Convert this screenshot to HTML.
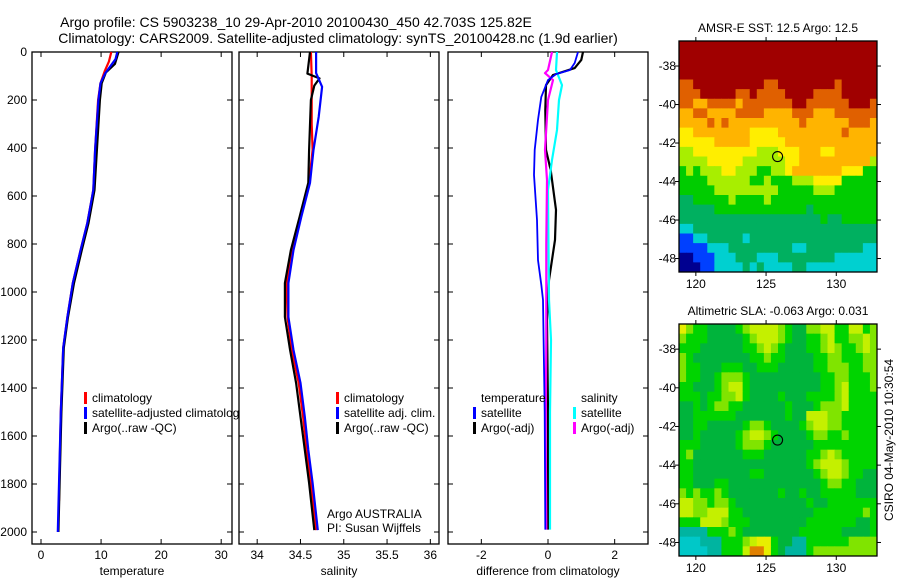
<!DOCTYPE html>
<html><head><meta charset="utf-8"><style>
html,body{margin:0;padding:0;background:#fff;}
svg{display:block;font-family:"Liberation Sans",sans-serif;}
</style></head><body>
<svg id="fig" width="900" height="580" viewBox="0 0 900 580">
<text x="296" y="27" font-size="14" text-anchor="middle">Argo profile: CS 5903238_10 29-Apr-2010 20100430_450 42.703S 125.82E</text>
<text x="338" y="43" font-size="14" text-anchor="middle">Climatology: CARS2009. Satellite-adjusted climatology: synTS_20100428.nc (1.9d earlier)</text>
</svg>
<script>
// ---------- data ----------
const depthTicks=[0,200,400,600,800,1000,1200,1400,1600,1800,2000];
const tempTicks=[0,10,20,30];
const salTicks=[34,34.5,35,35.5,36];
const salTickLabels=["34","34.5","35","35.5","36"];
const diffTicks=[-2,0,2];
// temperature panel
const tClimDepth=[0,40,80,130,200,408,575,617,713,825,963,1104,1233,1500,1870];
const tClimVal=[11.7,11.3,10.6,9.9,9.5,9.0,8.7,8.4,7.7,6.6,5.3,4.4,3.7,3.3,3.0];
const tSatDepth=[0,30,88,130,200,408,575,617,713,825,963,1104,1233,1500,2000];
const tSatVal=[12.7,12.4,10.7,9.9,9.55,9.0,8.7,8.4,7.7,6.6,5.3,4.4,3.7,3.3,2.8];
const tArgoDepth=[0,50,85,130,200,408,575,617,713,825,963,1104,1233,1500,2000];
const tArgoVal=[12.9,12.3,10.8,10.1,9.8,9.3,8.9,8.6,7.9,6.8,5.5,4.5,3.8,3.4,2.9];
// salinity panel
const sClimDepth=[0,100,300,408,545,687,825,963,1104,1242,1379,1520,1658,1796,1992];
const sClimVal=[34.62,34.63,34.63,34.64,34.60,34.50,34.41,34.34,34.35,34.40,34.48,34.53,34.57,34.62,34.68];
const sSatDepth=[0,88,145,270,408,545,687,825,963,1104,1242,1379,1520,1658,1796,1992];
const sSatVal=[34.68,34.68,34.75,34.71,34.65,34.61,34.51,34.42,34.36,34.36,34.42,34.50,34.55,34.59,34.64,34.70];
const sArgoDepth=[0,90,110,140,200,408,545,687,825,963,1104,1242,1379,1520,1658,1796,1992];
const sArgoVal=[34.61,34.58,34.72,34.66,34.62,34.60,34.59,34.49,34.39,34.32,34.32,34.38,34.45,34.50,34.55,34.60,34.66];
// difference panel
const dTSatDepth=[0,46,75,92,117,187,283,408,512,700,867,970,1033,1500,1990];
const dTSatVal=[0.9,0.8,0.66,0.24,0.0,-0.2,-0.3,-0.4,-0.42,-0.33,-0.3,-0.2,-0.15,-0.1,-0.08];
const dTArgoDepth=[0,33,67,96,138,242,408,492,658,783,950,1117,1500,1990];
const dTArgoVal=[1.05,1.0,0.8,0.15,-0.06,-0.08,-0.06,0.08,0.24,0.21,0.03,-0.03,0.0,0.0];
const dSSatDepth=[0,75,138,200,325,450,575,1033,1200,1500,1990];
const dSSatVal=[0.27,0.24,0.42,0.33,0.27,0.12,0.0,0.03,0.09,0.06,0.06];
const dSArgoDepth=[0,75,88,117,200,408,533,800,1200,1600,1990];
const dSArgoVal=[0.12,0.0,-0.09,0.15,0.0,-0.09,-0.03,-0.05,-0.05,-0.07,-0.05];
// maps
const mapLonTicks=[120,125,130];
const mapLatTicks=[-38,-40,-42,-44,-46,-48];
const sstGrid=[
"9999999999999999999999999999","9999999999999999999999999999","9999999999999999999999999999","9999999999999999999999999999",
"8899999999998899999999899999","8889999988988889999888899999","8877888878888888998888889998","7788777788887777888777888888",
"7777878777777777787777778887","6677777777666677777777787777","6666677777666667777777777777","5566666666655566677766777777",
"5555666665555556677777777775","4545556655544556777777766644","4444555555445444555666644444","4444455555555544444555444444",
"3344444544445444444444444444","3333344444444444443444444444","3333333333333333333343344444","2233333333333333333333333333",
"1122333332333333333333333333","1111222333333333223333333322","0011122233322233333333222222","0001122223232222332222222222"];
const slaGrid=[
"8655444456777765446677557756","6555444445677765445567556676","5554444445567654445567655676","6544444444556554444556655566",
"6554445554455544444556665566","6554456665444444444455665556","5544456775444444444455675556","5554556675444454445555675555",
"4454566554444445444566675555","4455555544444445447776655555","4455444445665444456776655555","4454444456776544445665565555",
"5554444456665444444555555555","5644444445554444445567655555","5544444444444444445677765555","5544444444554444444567765544",
"5544455444444444444456655444","6565565444444454454455555444","7766566544444444445445555555","7766777554444444444555555565",
"5557776555444444445555555445","2222555654444444455555544445","1112225556788544225555556666","1111225557998542225666666666"];
const argoLon=125.82, argoLat=-42.703;

// ---------- helpers ----------
const NS="http://www.w3.org/2000/svg";
const svg=document.getElementById('fig');
function mk(tag,attrs,parent){const e=document.createElementNS(NS,tag);for(const k in attrs)e.setAttribute(k,attrs[k]);(parent||svg).appendChild(e);return e;}
const Y0=52, PXD=0.24, PB=544;
const yD=d=>Y0+d*PXD;

function panel(name,left,right,xmin,xmax,xt,xtl,showYLabels,xlabel){
  const g=mk('g',{});
  
  
  const sx=v=>left+(v-xmin)/(xmax-xmin)*(right-left);
  const fr=mk('rect',{x:left,y:Y0,width:right-left,height:PB-Y0,fill:'#fff',stroke:'#000','stroke-width':1.3},g);
  
  
  depthTicks.forEach(d=>{
    mk('line',{x1:left,x2:left+5,y1:yD(d),y2:yD(d),stroke:'#000'},g);
    mk('line',{x1:right-5,x2:right,y1:yD(d),y2:yD(d),stroke:'#000'},g);
    if(showYLabels){const t=mk('text',{x:left-5,y:yD(d)+4,'font-size':12,'text-anchor':'end'},g);t.textContent=d;
      
      }
  });
  xt.forEach((v,i)=>{
    mk('line',{x1:sx(v),x2:sx(v),y1:Y0,y2:Y0+5,stroke:'#000'},g);
    mk('line',{x1:sx(v),x2:sx(v),y1:PB-5,y2:PB,stroke:'#000'},g);
    const t=mk('text',{x:sx(v),y:PB+15,'font-size':12,'text-anchor':'middle'},g);t.textContent=xtl[i];
    
    
  });
  const xl=mk('text',{x:(left+right)/2,y:575,'font-size':12,'text-anchor':'middle'},g);xl.textContent=xlabel;
  
  
  return {g,sx};
}
function series(p,name,depths,vals,color,w){
  const pts=depths.map((d,i)=>p.sx(vals[i]).toFixed(1)+','+yD(d).toFixed(1)).join(' ');
  const l=mk('polyline',{points:pts,fill:'none',stroke:color,'stroke-width':w||2.2,'stroke-linejoin':'round'},p.g);
  
  
}
function legend(p,x,y,color,label,name){
  if(color){const m=mk('rect',{x:x,y:y-10,width:3,height:12,fill:color},p.g);
    
    }
  const t=mk('text',{x:x+8,y:y,'font-size':12},p.g);t.textContent=label;
  
  
}

const p1=panel('temperature-panel',32,232,-1.5,31.8,tempTicks,tempTicks.map(String),true,'temperature');
series(p1,'temp-climatology-line',tClimDepth,tClimVal,'#f00');
series(p1,'temp-argo-line',tArgoDepth,tArgoVal,'#000');
series(p1,'temp-satellite-line',tSatDepth,tSatVal,'#00f');
legend(p1,84,402,'#f00','climatology','legend-climatology');
legend(p1,84,417,'#00f','satellite-adjusted climatology','legend-satellite-adjusted');
legend(p1,84,432,'#000','Argo(..raw -QC)','legend-argo');

const p2=panel('salinity-panel',239,439,33.79,36.1,salTicks,salTickLabels,false,'salinity');
series(p2,'sal-climatology-line',sClimDepth,sClimVal,'#f00');
series(p2,'sal-argo-line',sArgoDepth,sArgoVal,'#000');
series(p2,'sal-satellite-line',sSatDepth,sSatVal,'#00f');
legend(p2,336,402,'#f00','climatology','legend-climatology');
legend(p2,336,417,'#00f','satellite adj. clim.','legend-satellite-adj');
legend(p2,336,432,'#000','Argo(..raw -QC)','legend-argo');
legend(p2,319,518,null,'Argo AUSTRALIA','argo-australia-note');
legend(p2,319,532,null,'PI: Susan Wijffels','pi-note');

const p3=panel('difference-panel',448,648,-3,3,diffTicks,diffTicks.map(String),false,'difference from climatology');
series(p3,'diff-temp-argo-line',dTArgoDepth,dTArgoVal,'#000');
series(p3,'diff-sal-satellite-line',dSSatDepth,dSSatVal,'#0ff');
series(p3,'diff-sal-argo-line',dSArgoDepth,dSArgoVal,'#f0f');
series(p3,'diff-temp-satellite-line',dTSatDepth,dTSatVal,'#00f',1.8);
legend(p3,473,402,null,'temperature','legend-temperature-header');
legend(p3,473,417,'#00f','satellite','legend-temp-satellite');
legend(p3,473,432,'#000','Argo(-adj)','legend-temp-argo');
legend(p3,573,402,null,'salinity','legend-salinity-header');
legend(p3,573,417,'#0ff','satellite','legend-sal-satellite');
legend(p3,573,432,'#f0f','Argo(-adj)','legend-sal-argo');

// ---------- maps ----------
const sstPal=['#000090','#0040ff','#00d0d0','#00b060','#00cc00','#a8ee00','#ffee00','#ffb400','#e06000','#a00000'];
const slaPal=['#0000c0','#00c8c8','#00b4a0','#00b060','#00b43c','#00d400','#80e400','#c4f000','#e8ee00','#e08000'];
function mapPanel(name,top,bottom,grid,pal,title){
  const left=679,right=877,lon0=118.8,lon1=132.9,lat0=-36.7,lat1=-48.7;
  const g=mk('g',{});
  
  
  const sx=v=>left+(v-lon0)/(lon1-lon0)*(right-left);
  const sy=v=>top+(v-lat0)/(lat1-lat0)*(bottom-top);
  const rows=grid.length, cols=grid[0].length;
  const dlon=(lon1-lon0)/cols, dlat=(lat1-lat0)/rows;
  for(let r=0;r<rows;r++)for(let c=0;c<cols;c++){
    const x=sx(lon0+c*dlon), y=sy(lat0+r*dlat);
    const cell=mk('rect',{x:x.toFixed(2),y:y.toFixed(2),width:(sx(lon0+(c+1)*dlon)-x+0.5).toFixed(2),height:(sy(lat0+(r+1)*dlat)-y+0.5).toFixed(2),fill:pal[+grid[r][c]]},g);
    
    
  }
  const fr=mk('rect',{x:left,y:top,width:right-left,height:bottom-top,fill:'none',stroke:'#000','stroke-width':1.3},g);
  
  
  mapLonTicks.forEach(v=>{
    mk('line',{x1:sx(v),x2:sx(v),y1:top-4,y2:top,stroke:'#000'},g);
    mk('line',{x1:sx(v),x2:sx(v),y1:bottom,y2:bottom+4,stroke:'#000'},g);
    const t=mk('text',{x:sx(v),y:bottom+16,'font-size':12,'text-anchor':'middle'},g);t.textContent=v;
    
    
  });
  mapLatTicks.forEach(v=>{
    mk('line',{x1:left-4,x2:left,y1:sy(v),y2:sy(v),stroke:'#000'},g);
    mk('line',{x1:right,x2:right+4,y1:sy(v),y2:sy(v),stroke:'#000'},g);
    const t=mk('text',{x:left-3,y:sy(v)+4,'font-size':12,'text-anchor':'end'},g);t.textContent=v;
    
    
  });
  const c=mk('circle',{cx:sx(argoLon),cy:sy(argoLat),r:5,fill:'none',stroke:'#000','stroke-width':1.1},g);
  
  
  const tt=mk('text',{x:(left+right)/2,y:top-9,'font-size':12,'text-anchor':'middle'},g);tt.textContent=title;
  
  
}
mapPanel('sst-map',41,272,sstGrid,sstPal,'AMSR-E SST: 12.5 Argo: 12.5');
mapPanel('sla-map',324,556,slaGrid,slaPal,'Altimetric SLA: -0.063 Argo: 0.031');
const stamp=mk('text',{x:0,y:0,'font-size':12,'text-anchor':'middle',transform:'translate(893,440) rotate(-90)'});
stamp.textContent='CSIRO 04-May-2010 10:30:54';


</script>
</body></html>
